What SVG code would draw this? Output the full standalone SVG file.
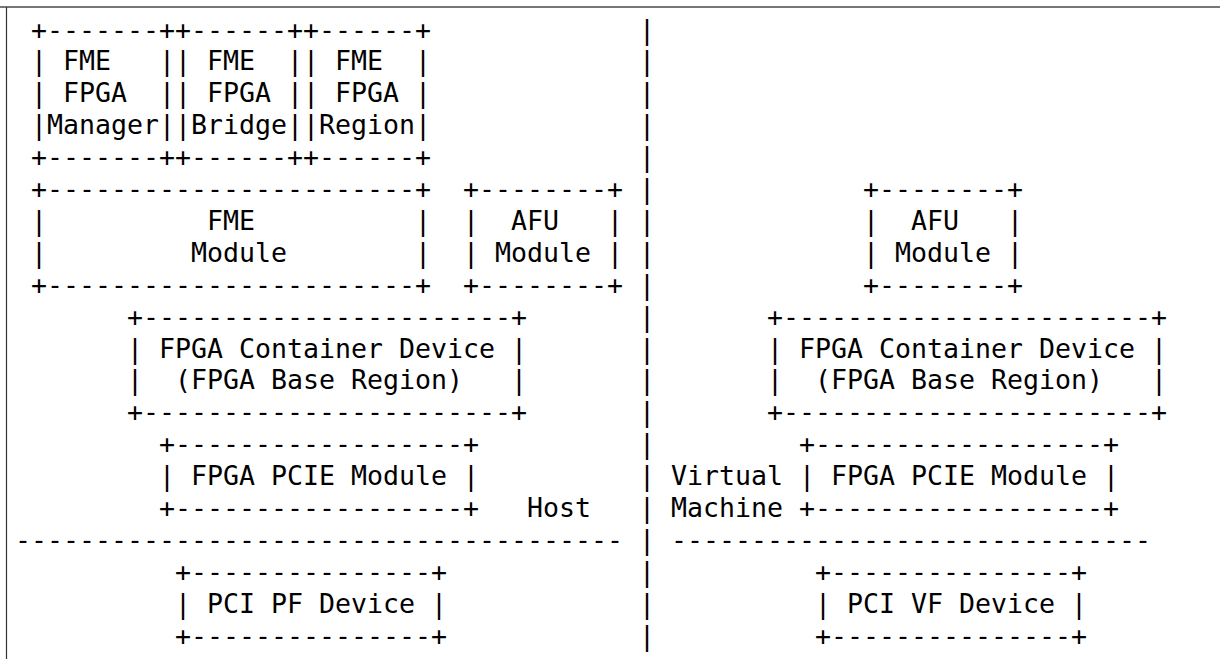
<svg xmlns="http://www.w3.org/2000/svg" width="1220" height="659" viewBox="0 0 1220 659" xml:space="preserve">
<style>
.t { font-family: "DejaVu Sans Mono", "Liberation Mono", monospace; font-size: 26.58px; fill: #000000; white-space: pre; }
.frame { stroke: #777777; fill: none; }
</style>
<rect x="0" y="0" width="1220" height="659" fill="#ffffff"/>
<g id="frame">
<line class="frame" x1="0" y1="7" x2="1220" y2="7" stroke-width="2"/>
<line class="frame" x1="6.5" y1="7" x2="6.5" y2="659" stroke-width="1.2" style="stroke:#333333"/>
</g>
<g id="fme-fpga-manager">
<text class="t" x="31" y="38.5">+-------+</text>
<text class="t" x="31" y="70.4">| FME   |</text>
<text class="t" x="31" y="102.3">| FPGA  |</text>
<text class="t" x="31" y="134.2">|Manager|</text>
<text class="t" x="31" y="166.1">+-------+</text>
</g>
<g id="fme-fpga-bridge">
<text class="t" x="175" y="38.5">+------+</text>
<text class="t" x="175" y="70.4">| FME  |</text>
<text class="t" x="175" y="102.3">| FPGA |</text>
<text class="t" x="175" y="134.2">|Bridge|</text>
<text class="t" x="175" y="166.1">+------+</text>
</g>
<g id="fme-fpga-region">
<text class="t" x="303" y="38.5">+------+</text>
<text class="t" x="303" y="70.4">| FME  |</text>
<text class="t" x="303" y="102.3">| FPGA |</text>
<text class="t" x="303" y="134.2">|Region|</text>
<text class="t" x="303" y="166.1">+------+</text>
</g>
<g id="fme-module">
<text class="t" x="31" y="198">+-----------------------+</text>
<text class="t" x="31" y="229.9">|          FME          |</text>
<text class="t" x="31" y="261.8">|         Module        |</text>
<text class="t" x="31" y="293.7">+-----------------------+</text>
</g>
<g id="host-afu-module">
<text class="t" x="463" y="198">+--------+</text>
<text class="t" x="463" y="229.9">|  AFU   |</text>
<text class="t" x="463" y="261.8">| Module |</text>
<text class="t" x="463" y="293.7">+--------+</text>
</g>
<g id="host-fpga-container">
<text class="t" x="127" y="325.6">+-----------------------+</text>
<text class="t" x="127" y="357.5">| FPGA Container Device |</text>
<text class="t" x="127" y="389.4">|  (FPGA Base Region)   |</text>
<text class="t" x="127" y="421.3">+-----------------------+</text>
</g>
<g id="host-fpga-pcie">
<text class="t" x="159" y="453.2">+------------------+</text>
<text class="t" x="159" y="485.1">| FPGA PCIE Module |</text>
<text class="t" x="159" y="517">+------------------+</text>
</g>
<g id="host-label">
<text class="t" x="527" y="517">Host</text>
</g>
<g id="pci-pf-device">
<text class="t" x="175" y="580.8">+---------------+</text>
<text class="t" x="175" y="612.7">| PCI PF Device |</text>
<text class="t" x="175" y="644.6">+---------------+</text>
</g>
<g id="vm-afu-module">
<text class="t" x="863" y="198">+--------+</text>
<text class="t" x="863" y="229.9">|  AFU   |</text>
<text class="t" x="863" y="261.8">| Module |</text>
<text class="t" x="863" y="293.7">+--------+</text>
</g>
<g id="vm-fpga-container">
<text class="t" x="767" y="325.6">+-----------------------+</text>
<text class="t" x="767" y="357.5">| FPGA Container Device |</text>
<text class="t" x="767" y="389.4">|  (FPGA Base Region)   |</text>
<text class="t" x="767" y="421.3">+-----------------------+</text>
</g>
<g id="vm-fpga-pcie">
<text class="t" x="799" y="453.2">+------------------+</text>
<text class="t" x="799" y="485.1">| FPGA PCIE Module |</text>
<text class="t" x="799" y="517">+------------------+</text>
</g>
<g id="vm-label">
<text class="t" x="671" y="485.1">Virtual</text>
<text class="t" x="671" y="517">Machine</text>
</g>
<g id="pci-vf-device">
<text class="t" x="815" y="580.8">+---------------+</text>
<text class="t" x="815" y="612.7">| PCI VF Device |</text>
<text class="t" x="815" y="644.6">+---------------+</text>
</g>
<g id="connectors">
<text class="t" x="639" y="38.5">|</text>
<text class="t" x="639" y="70.4">|</text>
<text class="t" x="639" y="102.3">|</text>
<text class="t" x="639" y="134.2">|</text>
<text class="t" x="639" y="166.1">|</text>
<text class="t" x="639" y="198">|</text>
<text class="t" x="639" y="229.9">|</text>
<text class="t" x="639" y="261.8">|</text>
<text class="t" x="639" y="293.7">|</text>
<text class="t" x="639" y="325.6">|</text>
<text class="t" x="639" y="357.5">|</text>
<text class="t" x="639" y="389.4">|</text>
<text class="t" x="639" y="421.3">|</text>
<text class="t" x="639" y="453.2">|</text>
<text class="t" x="639" y="485.1">|</text>
<text class="t" x="639" y="517">|</text>
<text class="t" x="639" y="548.9">|</text>
<text class="t" x="639" y="580.8">|</text>
<text class="t" x="639" y="612.7">|</text>
<text class="t" x="639" y="644.6">|</text>
<text class="t" x="15" y="548.9">--------------------------------------</text>
<text class="t" x="671" y="548.9">------------------------------</text>
</g>
</svg>
